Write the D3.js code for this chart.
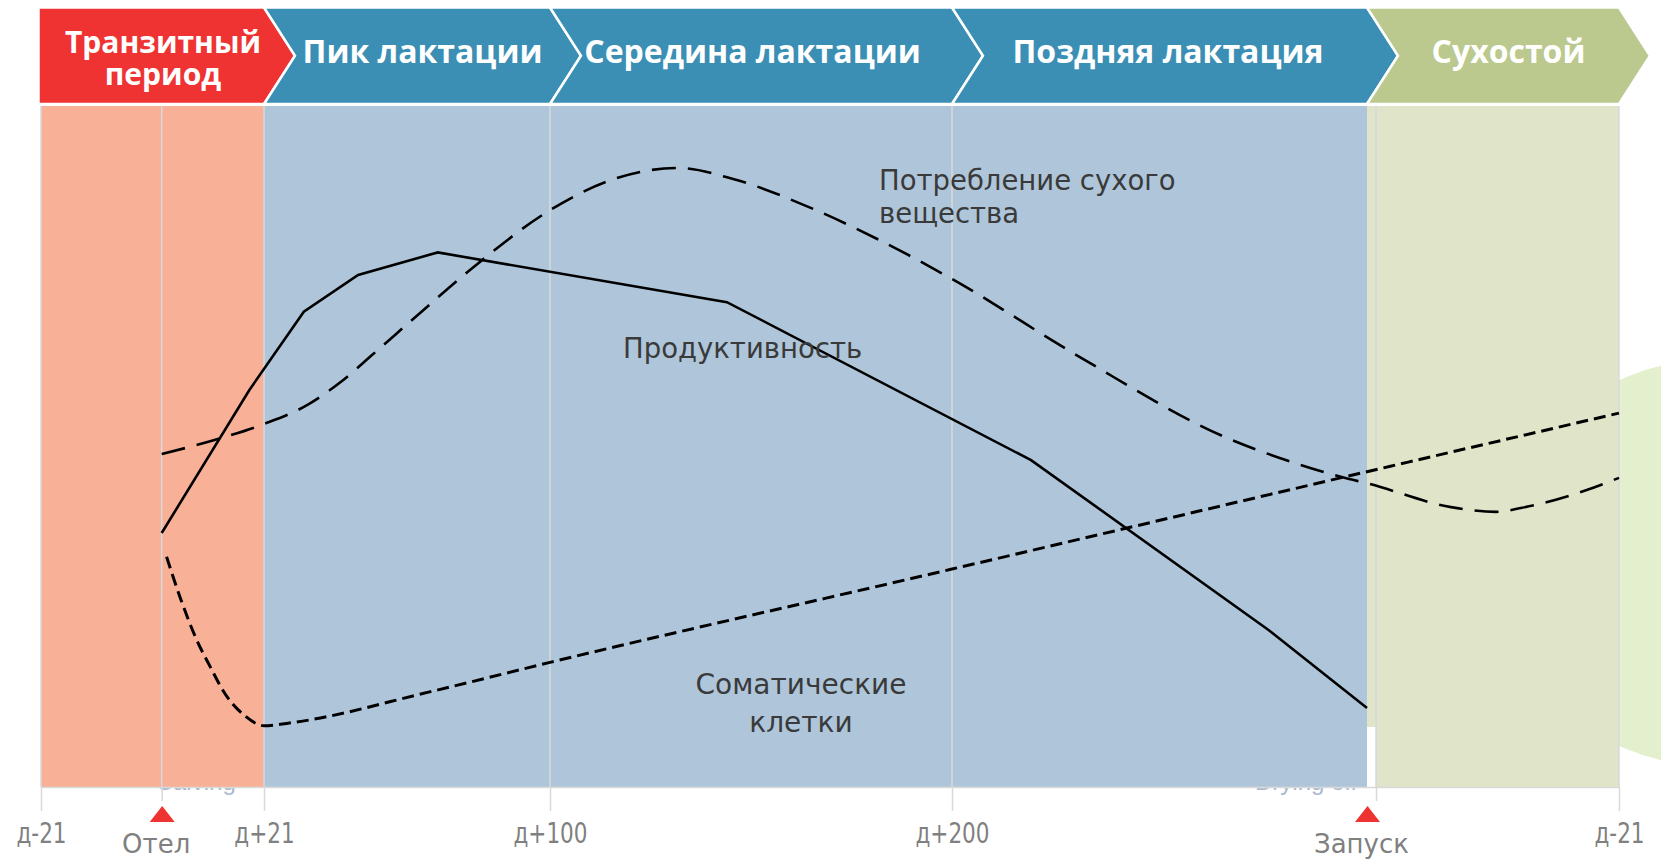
<!DOCTYPE html>
<html>
<head>
<meta charset="utf-8">
<script src="https://cdn.jsdelivr.net/npm/d3@7"></script>
<style>
    body { margin: 0; background: #fff; }
</style>
</head>
<body>
<svg id="drawing_region"></svg>
<script>
// phases of the lactation cycle
const phaseNames = [['Транзитный', 'период'], ['Пик лактации'], ['Середина лактации'], ['Поздняя лактация'], ['Сухостой']];
const phaseStart = [-21, 21, 100, 200, 305];
const phaseEnd = [21, 100, 200, 305, 344];

// axis
const dayTicks = [-21, 0, 21, 100, 200, 305, 344];
const tickLabels = ['д-21', 'Отел', 'д+21', 'д+100', 'д+200', 'Запуск', 'д-21'];
const markerDays = [0, 305];

// productivity (solid)
const milkDays = [0, 18, 32, 47, 69, 144, 220, 280, 305];
const milkValues = [37.3, 58.3, 69.8, 75.2, 78.5, 71.2, 48.0, 23.1, 11.6];

// dry matter intake (long dash)
const dmiDays = [0, 13, 21, 33, 42, 51, 63, 79, 100, 115, 132, 146, 165, 182, 200, 233, 269, 285, 300, 305, 318, 325, 329, 339, 344];
const dmiValues = [48.9, 51.4, 53.3, 56.1, 59.4, 63.5, 69.1, 76.4, 84.7, 89.1, 90.9, 89.2, 85.0, 80.3, 74.6, 62.9, 51.4, 47.9, 45.3, 44.6, 41.1, 40.4, 41.0, 43.6, 45.4];

// somatic cells (short dash)
const sccDays = [1, 4, 7, 10, 13, 17, 21, 28, 67, 100, 200, 305, 344];
const sccValues = [33.8, 27.4, 21.9, 17.6, 13.7, 10.5, 9.0, 9.4, 14.0, 18.3, 32.0, 46.3, 54.9];

class LactationChart {

    constructor(config) {
        this.config = {
            parent: config.parent,
            width: config.width || 1661,
            height: config.height || 862,
            tickPos: config.tickPos,
            top: config.top,
            bottom: config.bottom
        }
        this.init();
    }

    init() {
        let self = this;

        self.svg = d3.select(self.config.parent)
            .attr('width', self.config.width)
            .attr('height', self.config.height);

        // schematic, piecewise day axis
        self.xscale = d3.scaleLinear()
            .domain(dayTicks)
            .range(self.config.tickPos);

        self.yscale = d3.scaleLinear()
            .domain([0, 100])
            .range([self.config.bottom, self.config.top]);

        self.xaxis = d3.axisBottom(self.xscale)
            .tickValues(dayTicks)
            .tickFormat((d, i) => tickLabels[i])
            .tickSize(24)
            .tickSizeOuter(0);
    }

    render() {
        let self = this;
        const x = self.xscale, y = self.yscale;
        const top = self.config.top, bottom = self.config.bottom;
        const dryShift = 9;   // the dry-off gridline sits a little right of the blue panel

        // light green blob behind the dry period panel
        self.svg.append('circle')
            .attr('cx', 1705)
            .attr('cy', 563)
            .attr('r', 202)
            .attr('fill', '#e3efcd');

        // left-over english labels, mostly hidden by the panels
        self.svg.append('g')
            .selectAll('text')
            .data([['Calving', 0], ['Drying off', 305]])
            .join('text')
            .attr('x', d => x(d[1]) - (d[1] ? 112 : 6))
            .attr('y', bottom + 3)
            .style('font-family', 'Liberation Sans, sans-serif')
            .style('font-size', '24px')
            .attr('fill', '#a7b9cd')
            .text(d => d[0]);

        // background panels
        const panelColor = ['#f8b097', '#afc6da', '#afc6da', '#afc6da', '#e0e4c9'];
        self.svg.append('g')
            .selectAll('rect')
            .data(phaseStart)
            .join('rect')
            .attr('x', (d, i) => x(d) + (i == 4 ? dryShift : 0))
            .attr('y', top)
            .attr('width', (d, i) => x(phaseEnd[i]) - x(d) - (i == 4 ? dryShift : 0))
            .attr('height', bottom - top)
            .attr('fill', (d, i) => panelColor[i]);

        self.svg.append('rect')
            .attr('x', x(305))
            .attr('y', top)
            .attr('width', dryShift)
            .attr('height', bottom - top - 60)
            .attr('fill', '#e0e4c9');

        // vertical gridlines
        self.svg.append('g')
            .selectAll('line')
            .data(dayTicks)
            .join('line')
            .attr('x1', d => x(d) + (d == 305 ? dryShift : 0))
            .attr('x2', d => x(d) + (d == 305 ? dryShift : 0))
            .attr('y1', top)
            .attr('y2', bottom)
            .attr('stroke', '#d6dadd')
            .attr('stroke-width', 1.5);

        // bottom axis
        self.xaxis_group = self.svg.append('g')
            .attr('transform', `translate(0, ${bottom})`)
            .call(self.xaxis);

        self.xaxis_group.select('.domain')
            .attr('stroke', '#d9d9d9')
            .attr('stroke-width', 1.5);

        self.xaxis_group.selectAll('.tick line')
            .attr('stroke', '#d9d9d9')
            .attr('stroke-width', 1.5);

        self.xaxis_group.selectAll('.tick text')
            .attr('dy', null)
            .attr('y', 56)
            .attr('fill', '#808080')
            .style('font-family', 'DejaVu Sans, sans-serif')
            .style('font-size', '28px')
            .attr('transform', 'scale(0.77, 1)');

        const markers = self.xaxis_group.selectAll('.tick')
            .filter(d => markerDays.includes(d));

        markers.select('line')
            .attr('y2', 14)
            .attr('transform', d => `translate(${d == 305 ? dryShift : 0}, 0)`);

        markers.select('text')
            .attr('y', 66)
            .attr('x', -6)
            .style('font-size', '26px')
            .attr('transform', null);

        markers.append('path')
            .attr('d', 'M0,19L12.5,35L-12.5,35Z')
            .attr('fill', '#ee3333');

        // header chevrons
        const htop = 7.5, hbot = 104, hmid = (htop + hbot) / 2, tip = 31;
        const headColor = ['#ef3232', '#3b8fb5', '#3b8fb5', '#3b8fb5', '#bbc98f'];
        const headNudge = [-5, 0, -14, -7, 0];

        const header = self.svg.append('g');

        header.selectAll('path')
            .data(phaseStart)
            .join('path')
            .attr('d', (d, i) => {
                const xl = x(d) - (i == 0 ? 2.5 : 0), xr = x(phaseEnd[i]);
                const notch = i == 0 ? '' : `L${xl + tip},${hmid}`;
                return `M${xl},${htop}L${xr},${htop}L${xr + tip},${hmid}L${xr},${hbot}L${xl},${hbot}${notch}Z`;
            })
            .attr('fill', (d, i) => headColor[i])
            .attr('stroke', '#fff')
            .attr('stroke-width', 2.5);

        header.selectAll('text')
            .data(phaseNames)
            .join('text')
            .attr('x', (d, i) => (x(phaseStart[i]) + x(phaseEnd[i])) / 2 + tip / 2 + headNudge[i])
            .attr('y', d => d.length > 1 ? 53 : 63)
            .attr('text-anchor', 'middle')
            .attr('fill', '#fff')
            .style('font-family', 'Open Sans, sans-serif')
            .style('font-weight', 'bold')
            .style('font-size', d => d.length > 1 ? '30px' : '32px')
            .selectAll('tspan')
            .data(d => d)
            .join('tspan')
            .attr('x', function () { return d3.select(this.parentNode).attr('x'); })
            .attr('dy', (d, i) => i ? 32 : 0)
            .text(d => d);

        // curves
        const line = d3.line()
            .x(d => x(d[0]))
            .y(d => y(d[1]));

        self.svg.append('path')
            .attr('d', line.curve(d3.curveMonotoneX)(d3.zip(dmiDays, dmiValues)))
            .attr('fill', 'none')
            .attr('stroke', '#000')
            .attr('stroke-width', 2.6)
            .attr('stroke-dasharray', '24,12');

        self.svg.append('path')
            .attr('d', line.curve(d3.curveMonotoneX)(d3.zip(sccDays, sccValues)))
            .attr('fill', 'none')
            .attr('stroke', '#000')
            .attr('stroke-width', 3)
            .attr('stroke-dasharray', '12,6');

        self.svg.append('path')
            .attr('d', line.curve(d3.curveLinear)(d3.zip(milkDays, milkValues)))
            .attr('fill', 'none')
            .attr('stroke', '#000')
            .attr('stroke-width', 2.6);

        // curve labels
        const notes = self.svg.append('g')
            .attr('fill', '#3a3a3a')
            .style('font-family', 'DejaVu Sans, sans-serif')
            .style('font-size', '27.5px');

        notes.append('text')
            .attr('x', 879)
            .attr('y', 190)
            .text('Потребление сухого');

        notes.append('text')
            .attr('x', 879)
            .attr('y', 223)
            .text('вещества');

        notes.append('text')
            .attr('x', 623)
            .attr('y', 358)
            .text('Продуктивность');

        notes.append('text')
            .attr('x', 801)
            .attr('y', 694)
            .attr('text-anchor', 'middle')
            .style('font-size', '28px')
            .text('Соматические');

        notes.append('text')
            .attr('x', 801)
            .attr('y', 732)
            .attr('text-anchor', 'middle')
            .style('font-size', '28px')
            .text('клетки');
    }
}

let chart = new LactationChart({
    parent: '#drawing_region',
    width: 1661,
    height: 862,
    tickPos: [41, 161.7, 264, 550, 952, 1367, 1619],
    top: 106,
    bottom: 787
});
chart.render();
</script>
</body>
</html>
